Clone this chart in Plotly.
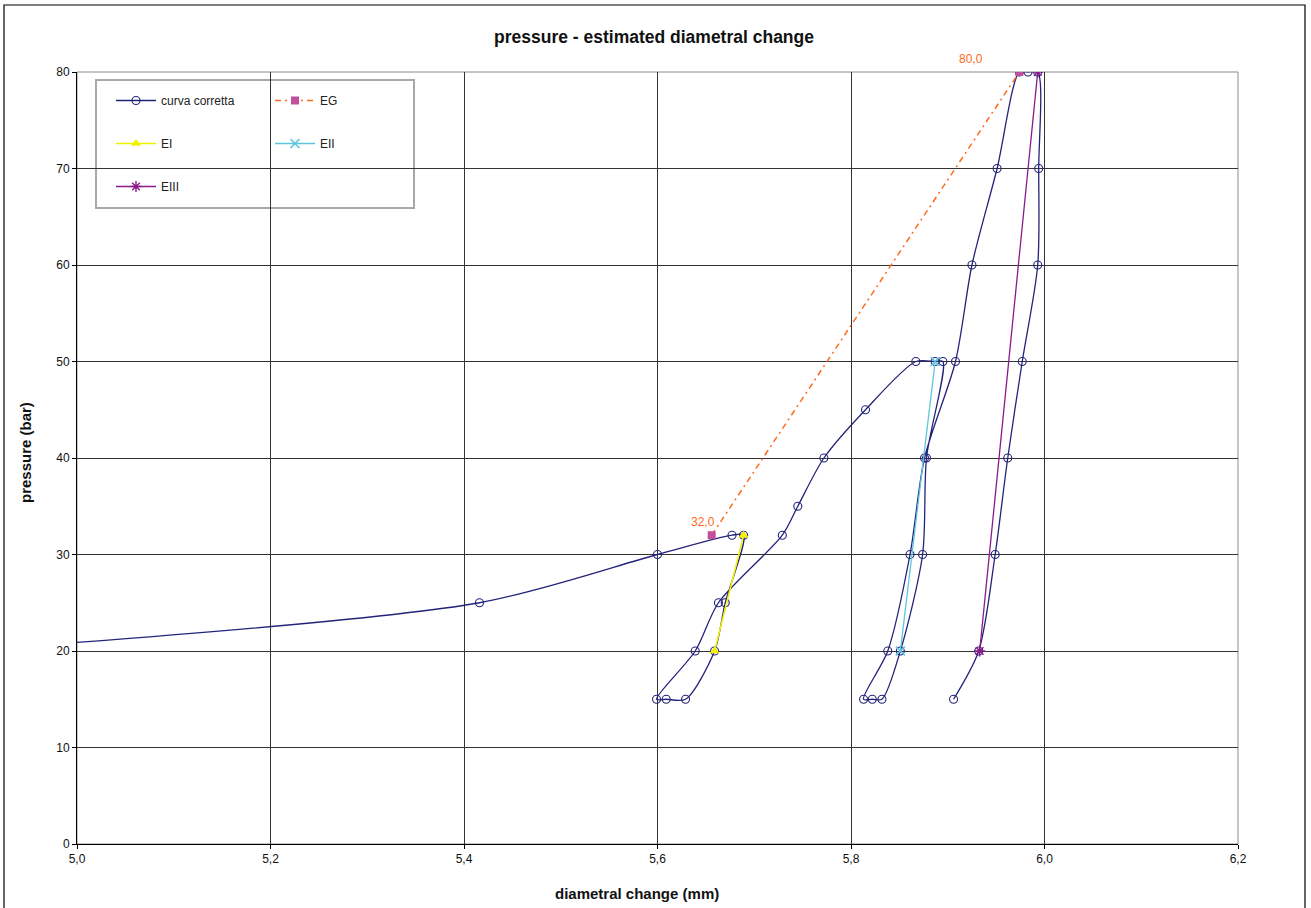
import plotly.graph_objects as go

# ---- data ----
curva_x = [4.88, 5.416, 5.600, 5.677, 5.689, 5.670, 5.659, 5.629, 5.609, 5.599,
           5.639, 5.663, 5.729, 5.745, 5.772, 5.815, 5.867, 5.887, 5.895, 5.878,
           5.874, 5.851, 5.832, 5.822, 5.813, 5.838, 5.861, 5.876, 5.908, 5.925,
           5.951, 5.974, 5.983, 5.993, 5.994, 5.993, 5.977, 5.962, 5.949, 5.932,
           5.906]
curva_y = [20, 25, 30, 32, 32, 25, 20, 15, 15, 15,
           20, 25, 32, 35, 40, 45, 50, 50, 50, 40,
           30, 20, 15, 15, 15, 20, 30, 40, 50, 60,
           70, 80, 80, 80, 70, 60, 50, 40, 30, 20,
           15]

eg_x = [5.656, 5.974]
eg_y = [32, 80]
ei_x = [5.659, 5.689]
ei_y = [20, 32]
eii_x = [5.851, 5.887]
eii_y = [20, 50]
eiii_x = [5.933, 5.993]
eiii_y = [20, 80]

x_ticks = [5.0, 5.2, 5.4, 5.6, 5.8, 6.0, 6.2]
y_ticks = [0, 10, 20, 30, 40, 50, 60, 70, 80]

FONT = "Liberation Sans, Arial, sans-serif"
NAVY = "#23237A"
ORANGE = "#FF6A1A"

fig = go.Figure()

fig.add_trace(go.Scatter(
    x=curva_x, y=curva_y, name="curva corretta", mode="lines+markers",
    line=dict(color=NAVY, width=1.3, shape="spline", smoothing=0.8),
    marker=dict(symbol="circle-open", size=8, color=NAVY, line=dict(width=1.1)),
    legend="legend", legendgroup="a",
))
fig.add_trace(go.Scatter(
    x=eg_x, y=eg_y, name="EG", mode="lines+markers",
    line=dict(color=ORANGE, width=1.5, dash="6px,4px,2px,4px"),
    marker=dict(symbol="square", size=8, color="#C24F9E"),
    legend="legend2", legendgroup="b",
))
fig.add_trace(go.Scatter(
    x=ei_x, y=ei_y, name="EI", mode="lines+markers",
    line=dict(color="#F2F200", width=1.5),
    marker=dict(symbol="triangle-up", size=9, color="#F2F200"),
    legend="legend", legendgroup="c",
))
fig.add_trace(go.Scatter(
    x=eii_x, y=eii_y, name="EII", mode="lines+markers",
    line=dict(color="#5CC6DC", width=1.3),
    marker=dict(symbol="x-thin-open", size=9, color="#5CC6DC", line=dict(width=1.6, color="#5CC6DC")),
    legend="legend2", legendgroup="d",
))
fig.add_trace(go.Scatter(
    x=eiii_x, y=eiii_y, name="EIII", mode="lines+markers",
    line=dict(color="#8A1A8A", width=1.3),
    marker=dict(symbol="asterisk-open", size=9, color="#8A1A8A", line=dict(width=1.4, color="#8A1A8A")),
    legend="legend", legendgroup="e",
))

# data labels of EG
shifts = [(-9, 13), (-48, 13)]
for (xv, yv), (dx, dy) in zip(zip(eg_x, eg_y), shifts):
    fig.add_annotation(x=xv, y=yv, text=f"{yv:.1f}".replace(".", ","), showarrow=False,
                       xshift=dx, yshift=dy, font=dict(family=FONT, size=12, color=ORANGE))

W, H = 1311, 908
L, R, T, B = 77, 1238, 72, 844
pw, ph = R - L, B - T
def px(x):
    return (x - L) / pw
def py(y):
    return (B - y) / ph

shapes = [
    # outer chart border
    dict(type="rect", xref="paper", yref="paper", x0=px(4), x1=px(1305), y0=py(915), y1=py(5),
         line=dict(color="#000000", width=1.2), layer="below"),
    # plot area border (top/right gray)
    dict(type="rect", xref="paper", yref="paper", x0=0, x1=1, y0=0, y1=1,
         line=dict(color="#8c8c8c", width=1), layer="below"),
    # legend box
    dict(type="rect", xref="paper", yref="paper", x0=px(96), x1=px(414), y0=py(208), y1=py(80),
         line=dict(color="#a8a8a8", width=2), fillcolor="white", layer="below"),
]

legend_common = dict(xanchor="left", yanchor="top", bgcolor="rgba(0,0,0,0)", borderwidth=0,
                     tracegroupgap=24, itemwidth=40,
                     font=dict(family=FONT, size=12, color="#222222"))

fig.update_layout(
    width=W, height=H,
    margin=dict(l=L, r=W - R, t=T, b=H - B),
    paper_bgcolor="white", plot_bgcolor="white",
    separators=",.",
    font=dict(family=FONT, size=12, color="#111111"),
    title=dict(text="<b>pressure - estimated diametral change</b>", x=654 / W, xanchor="center",
               y=1 - 37 / H, yanchor="middle", font=dict(family=FONT, size=17.5, color="#111111")),
    xaxis=dict(range=[5.0, 6.2], tickvals=x_ticks, tickformat=".1f", showgrid=True,
               gridcolor="#333333", gridwidth=1, showline=True, linecolor="#000000", linewidth=1,
               ticks="outside", ticklen=4, tickcolor="#000000", zeroline=False,
               tickfont=dict(family=FONT, size=12)),
    yaxis=dict(range=[0, 80], tickvals=y_ticks, showgrid=True, gridcolor="#333333", gridwidth=1,
               showline=True, linecolor="#000000", linewidth=1, ticks="outside", ticklen=4,
               tickcolor="#000000", zeroline=False, tickfont=dict(family=FONT, size=12)),
    shapes=shapes,
    legend=dict(x=px(111), y=py(86), **legend_common),
    legend2=dict(x=px(270), y=py(86), **legend_common),
    showlegend=True,
)

fig.add_annotation(text="<b>diametral change (mm)</b>", xref="paper", yref="paper",
                   x=px(637), y=py(893), xanchor="center", yanchor="middle", showarrow=False,
                   font=dict(family=FONT, size=15, color="#111111"))
fig.add_annotation(text="<b>pressure (bar)</b>", xref="paper", yref="paper", textangle=-90,
                   x=px(25), y=py(453), xanchor="center", yanchor="middle", showarrow=False,
                   font=dict(family=FONT, size=15, color="#111111"))

fig.write_html("out.html", config={"displayModeBar": False},
               post_script="document.body.style.margin='0px';")
